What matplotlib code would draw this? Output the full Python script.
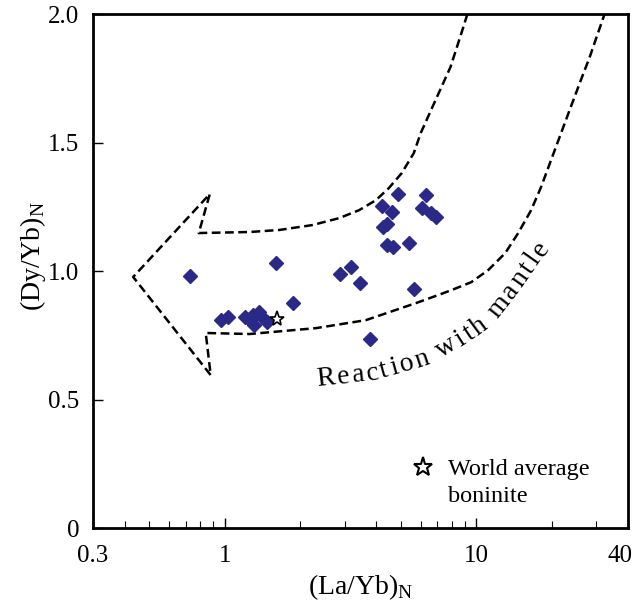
import numpy as np
import matplotlib
matplotlib.use("Agg")
import matplotlib.pyplot as plt
from matplotlib.ticker import LogLocator, NullFormatter, FixedLocator, FixedFormatter
from matplotlib.font_manager import FontProperties
import matplotlib.transforms as mtransforms

plt.rcParams['font.family'] = ['Liberation Serif', 'DejaVu Serif']
plt.rcParams['mathtext.fontset'] = 'custom'
plt.rcParams['mathtext.rm'] = 'Liberation Serif'

# samples: (La/Yb)N and (Dy/Yb)N
la_yb = [0.73, 0.97, 1.03, 1.20, 1.29, 1.375, 1.41, 1.31, 1.47, 1.26,
         1.60, 1.86, 2.87, 3.18, 3.45, 3.78, 5.64, 4.41, 4.65, 5.39,
         4.87, 4.21, 4.61, 4.41, 4.25, 6.29, 6.06, 6.58, 6.89]
dy_yb = [0.98, 0.81, 0.82, 0.82, 0.83, 0.84, 0.82, 0.79, 0.80, 0.81,
         1.03, 0.875, 0.99, 1.015, 0.955, 0.735, 0.93, 1.10, 1.095, 1.11,
         1.30, 1.255, 1.23, 1.185, 1.17, 1.295, 1.245, 1.225, 1.21]

# world average boninite
wab_x = [1.62]
wab_y = [0.813]

# dashed arrow outline: inner curve (top -> head), arrow head, outer curve (head -> top)
inner_x = [9.21, 8.72, 7.89, 6.88, 6.01, 5.64, 5.05, 4.49, 3.99, 3.42, 2.85, 2.23, 1.65, 1.256, 0.789]
inner_y = [2.0, 1.926, 1.794, 1.665, 1.537, 1.459, 1.381, 1.323, 1.276, 1.237, 1.206, 1.179, 1.16, 1.152, 1.148]
head_x = [0.873, 0.433, 0.88, 0.841]
head_y = [1.30, 0.977, 0.595, 0.759]
outer_x = [1.256, 2.31, 3.64, 5.74, 7.07, 7.97, 9.55, 11.15, 13.02, 14.66, 16.5, 18.07, 19.8,
           21.7, 23.7, 26.0, 28.2, 30.4, 32.4]
outer_y = [0.755, 0.778, 0.809, 0.875, 0.907, 0.926, 0.957, 1.004, 1.07, 1.148, 1.237, 1.327, 1.432,
           1.537, 1.638, 1.743, 1.833, 1.926, 2.004]

# baseline of the curved label
label_x = [2.33, 3.92, 6.64, 8.88, 11.36, 14.66, 19.6, 22.1, 26.0]
label_y = [0.553, 0.576, 0.638, 0.712, 0.782, 0.918, 1.093, 1.179, 1.32]
label_text = "Reaction with mantle"

xtick_vals = [0.3, 1, 10, 40]
xtick_labels = ["0.3", "1", "10", "40"]
ytick_vals = [0, 0.5, 1.0, 1.5, 2.0]
ytick_labels = ["0", "0.5", "1.0", "1.5", "2.0"]

fig = plt.figure(figsize=(6.33, 6.06), dpi=100)
ax = fig.add_axes([0.147, 0.1287, 0.845, 0.848])

ax.plot(inner_x + head_x + outer_x, inner_y + head_y + outer_y, color='black', lw=1.8,
        ls=(0, (3.5, 1.8)), zorder=2)
ax.plot(la_yb, dy_yb, ls='none', marker='D', ms=7.5, color='#2b2987',
        mec='#2b2987', zorder=3)
ax.plot(wab_x, wab_y, ls='none', marker='*', ms=11, mfc='white', mec='black',
        mew=1.2, zorder=4)

ax.set_xscale('log')
ax.set_xlim(0.3, 40)
ax.set_ylim(0, 2.0)

ax.xaxis.set_major_locator(FixedLocator(xtick_vals))
ax.xaxis.set_major_formatter(FixedFormatter(xtick_labels))
ax.xaxis.set_minor_locator(LogLocator(base=10, subs=np.arange(2, 10)))
ax.xaxis.set_minor_formatter(NullFormatter())
ax.set_yticks(ytick_vals)
ax.set_yticklabels(ytick_labels)

ax.tick_params(axis='both', which='major', direction='in', length=7, width=1,
               labelsize=18, colors='black')
ax.tick_params(axis='x', which='minor', direction='in', length=5, width=0.8)
ax.tick_params(axis='x', which='major', pad=12)
ax.tick_params(axis='y', which='major', pad=10)
for sp in ax.spines.values():
    sp.set_linewidth(2)

ax.set_xlabel(r"(La/Yb)$_\mathrm{N}$", fontsize=20, labelpad=4)
ax.set_ylabel(r"(Dy/Yb)$_\mathrm{N}$", fontsize=20)
ax.yaxis.set_label_coords(-0.085, 0.53)

# keep the last x tick label inside the figure
fig.canvas.draw()
last = ax.get_xticklabels()[-1]
last.set_transform(last.get_transform() +
                   mtransforms.ScaledTranslation(-8 / 100, 0, fig.dpi_scale_trans))

# legend entry
ax.plot([0.617], [0.119], transform=ax.transAxes, ls='none', marker='*', ms=14,
        mfc='white', mec='black', mew=1.5, clip_on=False)
ax.text(0.6636, 0.103, "World average", transform=ax.transAxes,
        fontsize=17.5, va='baseline', ha='left')
ax.text(0.6636, 0.0506, "boninite", transform=ax.transAxes,
        fontsize=17.5, va='baseline', ha='left')

# curved label along the outer side of the arrow
renderer = fig.canvas.get_renderer()
pts = ax.transData.transform(np.column_stack([label_x, label_y]))
seg = np.hypot(np.diff(pts[:, 0]), np.diff(pts[:, 1]))
cum = np.concatenate([[0], np.cumsum(seg)])


def along(s):
    return np.interp(s, cum, pts[:, 0]), np.interp(s, cum, pts[:, 1])


fp = FontProperties(family='Liberation Serif', size=20)
track = 2.5
widths = [0.0]
for i in range(1, len(label_text) + 1):
    w, h, d = renderer.get_text_width_height_descent(label_text[:i], fp, ismath=False)
    widths.append(w + track * i)
inv = ax.transData.inverted()
for i, ch in enumerate(label_text):
    if ch == ' ':
        continue
    sm = (widths[i] + widths[i + 1] - track) / 2
    x0, y0 = along(sm)
    xa, ya = along(sm - 12)
    xb, yb = along(sm + 12)
    ang = np.degrees(np.arctan2(yb - ya, xb - xa))
    dx, dy = inv.transform((x0, y0))
    ax.text(dx, dy, ch, fontproperties=fp, rotation=ang, rotation_mode='anchor',
            ha='center', va='baseline')

fig.savefig("out.png", dpi=100)
